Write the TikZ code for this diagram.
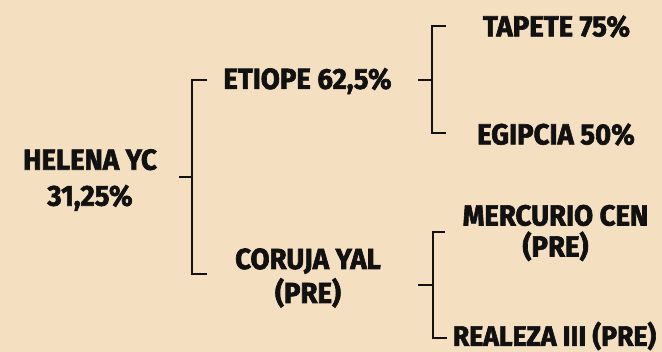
\documentclass[tikz,border=0pt]{standalone}
\usepackage{fontspec}
\setmainfont{Fira Sans}[BoldFeatures={FakeBold=2.2, FakeStretch=0.95}]
\definecolor{bg}{HTML}{F4DFC1}
\definecolor{ink}{HTML}{111111}
\tikzstyle{animal}=[font=\bfseries\fontsize{29}{35}\selectfont, text=ink, align=center, inner sep=0pt]
\tikzstyle{bracket}=[draw=ink, line width=2.2pt]

\begin{document}
\begin{tikzpicture}[x=1pt,y=-1pt]
	\fill [bg] (0,0) rectangle (662,352);
	% names
	\node [style=animal] (helena) at (90,180) {HELENA YC\\[1pt]31,25\%};
	\node [style=animal] (etiope) at (307.5,81) {ETIOPE 62,5\%};
	\node [style=animal] (coruja) at (308,278) {CORUJA YAL\\[-1pt](PRE)};
	\node [style=animal] (tapete) at (556.5,26.5) {TAPETE 75\%};
	\node [style=animal] (egipcia) at (556,134.5) {EGIPCIA 50\%};
	\node [style=animal] (mercurio) at (555.5,233) {MERCURIO CEN\\[-4pt](PRE)};
	\node [style=animal, font=\bfseries\fontsize{28}{34}\selectfont] (realeza) at (554.5,336) {REALEZA III (PRE)};
	% brackets
	\coordinate (s1) at (179,177);
	\coordinate (v1) at (192,177);
	\coordinate (t1) at (207,80);
	\coordinate (b1) at (207,274);
	\coordinate (s2) at (418,80);
	\coordinate (v2) at (432,80);
	\coordinate (t2) at (446,26);
	\coordinate (b2) at (446,133);
	\coordinate (s3) at (418,285);
	\coordinate (v3) at (433,285);
	\coordinate (t3) at (445,232);
	\coordinate (b3) at (447,338);
	\draw [style=bracket] (s1) -- (v1);
	\draw [style=bracket] (t1) -| (v1) |- (b1);
	\draw [style=bracket] (s2) -- (v2);
	\draw [style=bracket] (t2) -| (v2) |- (b2);
	\draw [style=bracket] (s3) -- (v3);
	\draw [style=bracket] (t3) -| (v3) |- (b3);
\end{tikzpicture}
\end{document}
